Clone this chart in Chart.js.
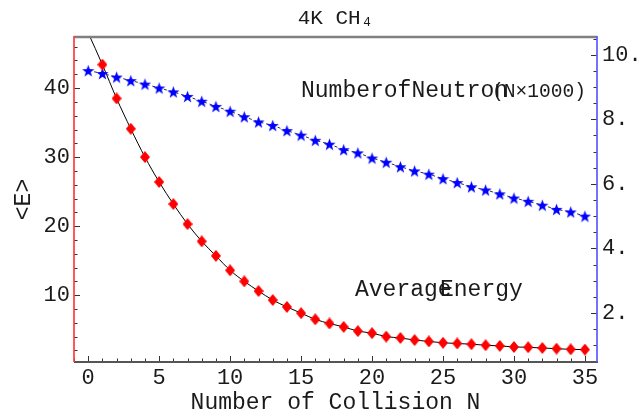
<!DOCTYPE html>
<html>
<head>
<meta charset="utf-8">
<script src="https://cdn.jsdelivr.net/npm/chart.js@4.4.1/dist/chart.umd.min.js"></script>
<style>
  html, body { margin: 0; padding: 0; background: #fff; }
  #wrap { width: 641px; height: 414px; }
</style>
</head>
<body>
<div id="wrap"><canvas id="chart" width="641" height="414"></canvas></div>
<script>
// Number of collisions N
const collisions = [0, 1, 2, 3, 4, 5, 6, 7, 8, 9, 10, 11, 12, 13, 14, 15, 16, 17,
                    18, 19, 20, 21, 22, 23, 24, 25, 26, 27, 28, 29, 30, 31, 32, 33, 34, 35];

// <E> after N collisions (N = 1..35)
const averageEnergy = [43.4, 38.5, 34.1, 30.0, 26.4, 23.2, 20.3, 17.8, 15.7, 13.6,
                       12.0, 10.6, 9.3, 8.3, 7.4, 6.5, 5.9, 5.4, 4.8, 4.5,
                       4.0, 3.8, 3.5, 3.3, 3.1, 3.0, 2.9, 2.75, 2.65, 2.5,
                       2.45, 2.35, 2.25, 2.15, 2.12];
const fitStart = 48.0; // fitted curve at N = 0, cut off by the frame

// number of neutrons left (x1000), N = 0..35
const neutrons = [9.51, 9.42, 9.31, 9.20, 9.09, 8.97, 8.85, 8.71, 8.56, 8.40,
                  8.25, 8.08, 7.92, 7.81, 7.65, 7.51, 7.35, 7.23, 7.06, 6.96,
                  6.80, 6.67, 6.53, 6.40, 6.30, 6.16, 6.04, 5.91, 5.81, 5.69,
                  5.56, 5.46, 5.34, 5.21, 5.13, 5.00];

const mono = "'Liberation Mono', 'Courier New', monospace";

// marker images
function makeStar() {
    const c = document.createElement('canvas');
    c.width = 13; c.height = 13;
    const g = c.getContext('2d');
    g.fillStyle = '#0000ff';
    g.beginPath();
    for (let i = 0; i < 10; i++) {
        const r = i % 2 ? 2.6 : 6.4;
        const a = -Math.PI / 2 + i * Math.PI / 5;
        g.lineTo(6.5 + r * Math.cos(a), 7.2 + r * Math.sin(a));
    }
    g.closePath();
    g.fill();
    return c;
}
function makeDiamond() {
    const c = document.createElement('canvas');
    c.width = 10; c.height = 12;
    const g = c.getContext('2d');
    g.fillStyle = '#ff0000';
    g.beginPath();
    g.moveTo(5, 0); g.lineTo(10, 6); g.lineTo(5, 12); g.lineTo(0, 6);
    g.closePath();
    g.fill();
    return c;
}

// title, inward ticks, coloured frame and the two plot labels
const frame = {
    id: 'frame',
    afterDraw(chart) {
        const {ctx, chartArea: a, scales} = chart;
        const x = scales.x, yl = scales.y, yr = scales.y2;
        ctx.save();
        ctx.strokeStyle = '#333';
        ctx.lineWidth = 1;
        const line = (x0, y0, x1, y1) => { ctx.beginPath(); ctx.moveTo(x0, y0); ctx.lineTo(x1, y1); ctx.stroke(); };

        for (let v = 2; v < yl.max; v += 2) {
            const p = Math.round(yl.getPixelForValue(v)) + 0.5;
            line(a.left, p, a.left + (v % 10 === 0 ? 6 : 3.5), p);
        }
        for (let v = 0.5; v < yr.max; v += 0.5) {
            const p = Math.round(yr.getPixelForValue(v)) + 0.5;
            line(a.right, p, a.right - (v % 2 === 0 ? 6 : 3.5), p);
        }
        for (let v = -1; v <= x.max; v += 1) {
            const p = Math.round(x.getPixelForValue(v)) + 0.5;
            line(p, a.bottom, p, a.bottom - (v % 5 === 0 ? 6 : 3.5));
        }

        ctx.lineWidth = 2.5;
        ctx.strokeStyle = '#808080';
        line(a.left, a.top, a.right, a.top);
        ctx.lineWidth = 2;
        ctx.strokeStyle = '#555';
        line(a.left, a.bottom, a.right + 1, a.bottom);
        ctx.lineWidth = 2;
        ctx.strokeStyle = 'rgba(255, 60, 60, 0.85)';
        line(a.left, a.top - 1, a.left, a.bottom);
        ctx.strokeStyle = 'rgba(90, 90, 255, 0.85)';
        line(a.right, a.top - 1, a.right, a.bottom);

        ctx.fillStyle = '#1a1a1a';
        ctx.textBaseline = 'alphabetic';
        ctx.textAlign = 'center';
        ctx.font = '21px ' + mono;
        ctx.fillText('4K CH\u2084', (a.left + a.right) / 2, 24);

        ctx.textAlign = 'left';
        ctx.font = '23px ' + mono;
        ctx.fillText('NumberofNeutron', 301, 97);
        ctx.font = '21px ' + mono;
        ctx.fillText('(N\u00d71000)', 492, 97, 94);
        ctx.font = '23px ' + mono;
        ctx.fillText('Average', 355, 296);
        ctx.fillText('Energy', 440, 296);
        ctx.restore();
    }
};

const ctx = document.getElementById('chart').getContext('2d');
new Chart(ctx, {
    type: 'line',
    data: {
        datasets: [
            {
                label: 'fit',
                data: [fitStart, ...averageEnergy].map((v, i) => ({x: collisions[i], y: v})),
                borderColor: '#000',
                borderWidth: 1,
                pointRadius: 0,
                cubicInterpolationMode: 'monotone',
                yAxisID: 'y',
                order: 3
            },
            {
                label: 'Number of Neutron',
                data: neutrons.map((v, i) => ({x: collisions[i], y: v})),
                borderColor: '#333',
                borderWidth: 1,
                borderDash: [3, 3],
                pointStyle: makeStar(),
                pointRadius: 6,
                yAxisID: 'y2',
                order: 2
            },
            {
                label: 'Average Energy',
                data: averageEnergy.map((v, i) => ({x: collisions[i + 1], y: v})),
                showLine: false,
                pointStyle: makeDiamond(),
                pointRadius: 6,
                yAxisID: 'y',
                order: 1
            }
        ]
    },
    options: {
        responsive: false,
        animation: false,
        devicePixelRatio: 1,
        layout: { padding: { top: 37 } },
        plugins: {
            legend: { display: false },
            tooltip: { enabled: false },
            title: { display: false }
        },
        scales: {
            x: {
                type: 'linear',
                min: -1,
                max: 35.85,
                grid: { display: false, drawTicks: false },
                border: { display: false },
                ticks: {
                    stepSize: 5,
                    includeBounds: false,
                    autoSkip: false,
                    maxRotation: 0,
                    padding: 3,
                    color: '#1a1a1a',
                    font: { family: mono, size: 22 }
                },
                title: {
                    display: true,
                    text: 'Number of Collision N',
                    color: '#1a1a1a',
                    font: { family: mono, size: 23, lineHeight: 1 },
                    padding: { top: 0, bottom: 0 }
                },
                afterFit(s) { s.height = 52; }
            },
            y: {
                position: 'left',
                min: 0.32,
                max: 47.4,
                grid: { display: false, drawTicks: false },
                border: { display: false },
                ticks: {
                    stepSize: 10,
                    includeBounds: false,
                    padding: 4,
                    color: '#1a1a1a',
                    font: { family: mono, size: 22 }
                },
                title: {
                    display: true,
                    text: '<E>',
                    color: '#1a1a1a',
                    font: { family: mono, size: 23, lineHeight: 1 },
                    padding: { top: 12, bottom: 0 }
                },
                afterFit(s) { s.width = 74; }
            },
            y2: {
                position: 'right',
                min: 0.48,
                max: 10.55,
                grid: { display: false, drawTicks: false },
                border: { display: false },
                ticks: {
                    stepSize: 2,
                    includeBounds: false,
                    padding: 5,
                    color: '#1a1a1a',
                    font: { family: mono, size: 22 },
                    callback: v => v + '.'
                },
                afterFit(s) { s.width = 44; }
            }
        }
    },
    plugins: [frame]
});
</script>
</body>
</html>
